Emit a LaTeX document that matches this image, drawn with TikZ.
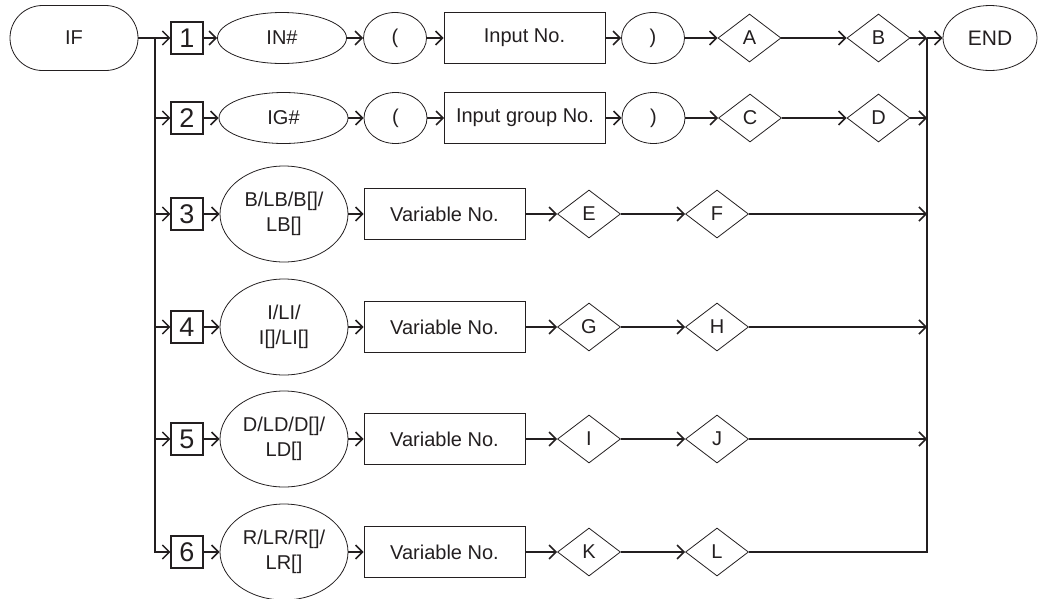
\documentclass[tikz,border=0pt]{standalone}
\usepackage{fontspec}
\setmainfont{Liberation Sans}
\usetikzlibrary{shapes.geometric,shapes.misc,arrows.meta}
\definecolor{ink}{HTML}{231F20}
\begin{document}
\begin{tikzpicture}[x=1pt,y=-1pt,
  every node/.style={draw=ink,line width=0.8pt,text=ink,inner sep=0pt,font=\fontsize{20}{25}\selectfont},
  term/.style={rounded rectangle,minimum width=128pt,minimum height=65pt},
  numbox/.style={rectangle,minimum width=32pt,minimum height=32pt,line width=1.2pt,font=\fontsize{27}{30}\selectfont},
  oval/.style={ellipse,minimum width=129pt,minimum height=51pt},
  par/.style={ellipse,minimum width=63pt,minimum height=51pt},
  bigoval/.style={ellipse,minimum width=128pt,minimum height=96pt,align=center},
  valbox/.style={rectangle,minimum width=161pt,minimum height=51pt},
  dia/.style={diamond,minimum width=63pt,minimum height=48pt},
  conn/.style={draw=ink,line width=1.7pt},
  arr/.style={conn,-{Straight Barb[length=7pt,width=14pt,line width=1.5pt]}}
]
\useasboundingbox (0,0) rectangle (1039,598);

% row 1
\node[term] (IF) at (74,38) {IF};
\node[numbox] (b1) at (187,38) {1};
\node[oval] (in) at (282,38) {IN\#};
\node[par] (lp1) at (395,38) {(};
\node[valbox] (inno) at (524.5,38) {Input No.};
\node[par] (rp1) at (653,38) {)};
\node[dia] (A) at (749.5,38) {A};
\node[dia] (B) at (878.5,38) {B};
\node[ellipse,minimum width=94pt,minimum height=65pt,font=\fontsize{21}{25}\selectfont] (END) at (990,38) {END};

% row 2
\node[numbox] (b2) at (187,118) {2};
\node[oval] (ig) at (283.5,118) {IG\#};
\node[par] (lp2) at (395.5,118) {(};
\node[valbox] (grp) at (525,118) {Input group No.};
\node[par] (rp2) at (653.5,118) {)};
\node[dia] (C) at (750,118) {C};
\node[dia] (D) at (878.5,118) {D};

% rows 3-6
\node[numbox] (b3) at (187,214) {3};
\node[bigoval] (t3) at (284,214) {B/LB/B[]/\\LB[]};
\node[valbox] (v3) at (444.5,214) {Variable No.};
\node[dia] (E) at (589,214) {E};
\node[dia] (F) at (717,214) {F};

\node[numbox] (b4) at (187,327) {4};
\node[bigoval] (t4) at (284,327) {I/LI/\\I[]/LI[]};
\node[valbox] (v4) at (444.5,327) {Variable No.};
\node[dia] (G) at (589,327) {G};
\node[dia] (H) at (717,327) {H};

\node[numbox] (b5) at (187,439) {5};
\node[bigoval] (t5) at (284,439) {D/LD/D[]/\\LD[]};
\node[valbox] (v5) at (444.5,439) {Variable No.};
\node[dia] (I) at (589,439) {I};
\node[dia] (J) at (717,439) {J};

\node[numbox] (b6) at (187,552) {6};
\node[bigoval] (t6) at (284,552) {R/LR/R[]/\\LR[]};
\node[valbox] (v6) at (444.5,552) {Variable No.};
\node[dia] (K) at (589,552) {K};
\node[dia] (L) at (717,552) {L};

% bus coordinates
\coordinate (l1) at (155,38);
\coordinate (l2) at (155,118);
\coordinate (l3) at (155,214);
\coordinate (l4) at (155,327);
\coordinate (l5) at (155,439);
\coordinate (l6) at (155,552);
\coordinate (r1) at (927,38);
\coordinate (r2) at (927,118);
\coordinate (r3) at (927,214);
\coordinate (r4) at (927,327);
\coordinate (r5) at (927,439);
\coordinate (r6) at (927,552);

% left bus
\draw[conn] (IF.east) -- (l1);
\draw[arr] (l1) -- (l6) -- (b6);
\draw[arr] (l1) -- (b1);
\draw[arr] (l2) -- (b2);
\draw[arr] (l3) -- (b3);
\draw[arr] (l4) -- (b4);
\draw[arr] (l5) -- (b5);

% right bus
\draw[conn] (L.east) -- (r6) -- (r1);
\draw[arr] (B.east) -- (r1);
\draw[arr] (r1) -- (END.west);
\draw[arr] (D.east) -- (r2);
\draw[arr] (F.east) -- (r3);
\draw[arr] (H.east) -- (r4);
\draw[arr] (J.east) -- (r5);

% row 1
\draw[arr] (b1) -- (in);
\draw[arr] (in) -- (lp1);
\draw[arr] (lp1) -- (inno);
\draw[arr] (inno) -- (rp1);
\draw[arr] (rp1) -- (A);
\draw[arr] (A) -- (B);
% row 2
\draw[arr] (b2) -- (ig);
\draw[arr] (ig) -- (lp2);
\draw[arr] (lp2) -- (grp);
\draw[arr] (grp) -- (rp2);
\draw[arr] (rp2) -- (C);
\draw[arr] (C) -- (D);
% rows 3-6
\draw[arr] (b3) -- (t3); \draw[arr] (t3) -- (v3); \draw[arr] (v3) -- (E); \draw[arr] (E) -- (F);
\draw[arr] (b4) -- (t4); \draw[arr] (t4) -- (v4); \draw[arr] (v4) -- (G); \draw[arr] (G) -- (H);
\draw[arr] (b5) -- (t5); \draw[arr] (t5) -- (v5); \draw[arr] (v5) -- (I); \draw[arr] (I) -- (J);
\draw[arr] (b6) -- (t6); \draw[arr] (t6) -- (v6); \draw[arr] (v6) -- (K); \draw[arr] (K) -- (L);
\end{tikzpicture}
\end{document}
